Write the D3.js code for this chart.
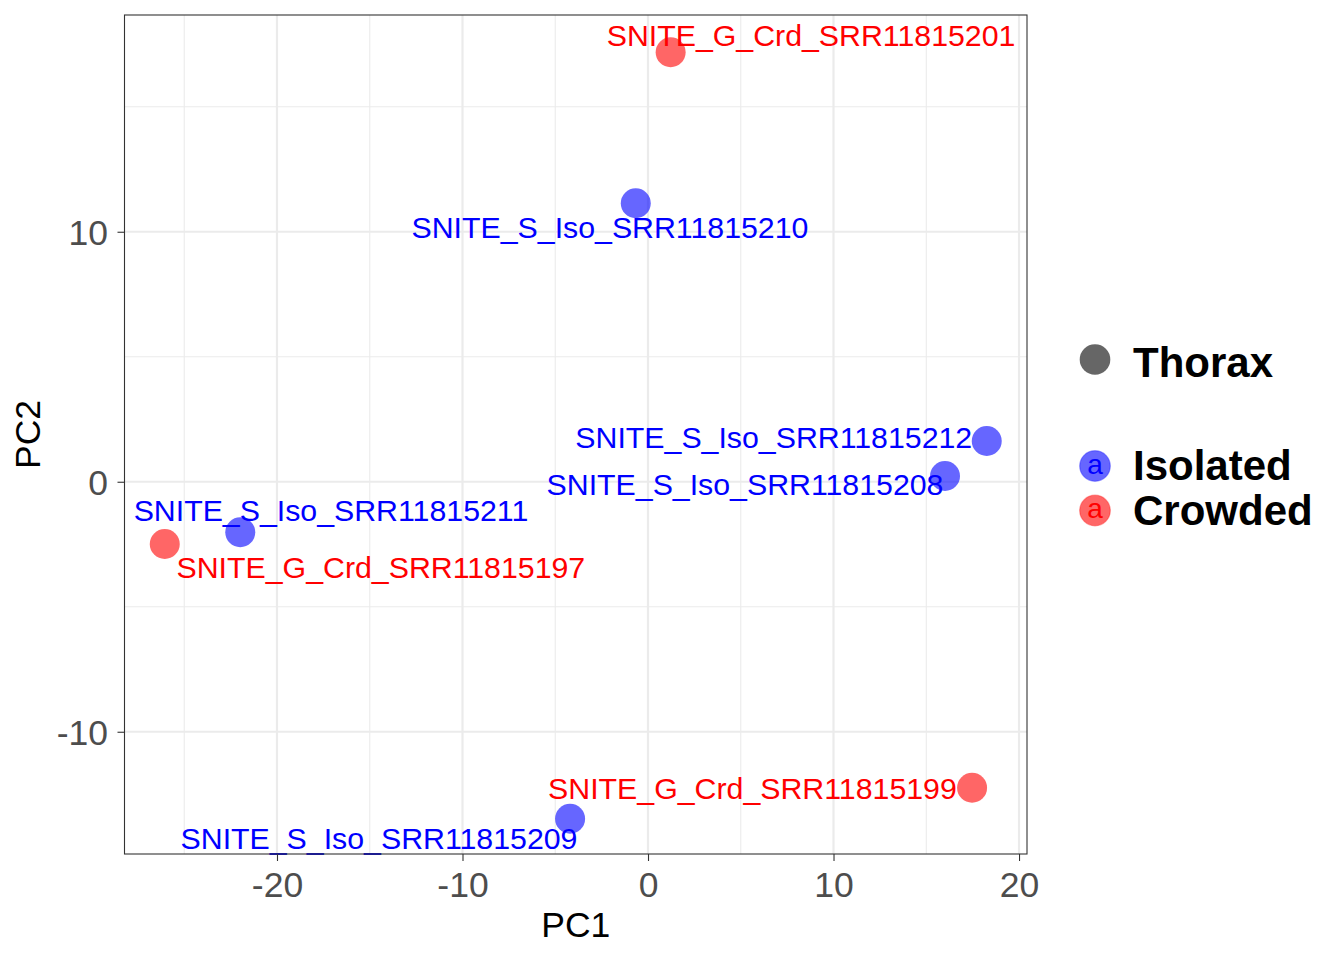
<!DOCTYPE html>
<html>
<head>
<meta charset="utf-8">
<script src="https://cdn.jsdelivr.net/npm/d3@7"></script>
<style>
  body { margin: 0; background: #fff; }
  svg text { font-family: "Liberation Sans", Arial, Helvetica, sans-serif; }
</style>
</head>
<body>
<div id="chart"></div>
<script>
'use strict';

// samples
const samples = ['SNITE_G_Crd_SRR11815201', 'SNITE_S_Iso_SRR11815210', 'SNITE_S_Iso_SRR11815212',
    'SNITE_S_Iso_SRR11815208', 'SNITE_S_Iso_SRR11815211', 'SNITE_G_Crd_SRR11815197',
    'SNITE_G_Crd_SRR11815199', 'SNITE_S_Iso_SRR11815209'];
const groups = ['Crowded', 'Isolated', 'Isolated', 'Isolated', 'Isolated', 'Crowded', 'Crowded', 'Isolated'];
const pc1 = [1.22, -0.66, 18.26, 16.01, -21.98, -26.05, 17.47, -4.2];
const pc2 = [17.18, 11.14, 1.63, 0.23, -2.02, -2.49, -12.24, -13.48];
// repelled label positions (data units)
const labelPc1 = [8.79, -2.05, 6.78, 5.23, -17.09, -14.4, 5.63, -14.5];
const labelPc2 = [17.85, 10.19, 1.77, -0.09, -1.14, -3.41, -12.27, -14.25];

const groupNames = ['Isolated', 'Crowded'];
const groupColors = ['#0000FF', '#FF0000'];
const tissue = 'Thorax';

const xTicks = [-20, -10, 0, 10, 20];
const xMinor = [-25, -15, -5, 5, 15];
const yTicks = [-10, 0, 10];
const yMinor = [-5, 5, 15];

const W = 1344, H = 960;
const margin = {top: 15, left: 124.5};
const width = 902.5, height = 839;

const svg = d3.select('#chart').append('svg')
    .attr('width', W).attr('height', H)
    .attr('viewBox', [0, 0, W, H]);

const g = svg.append('g')
    .attr('transform', `translate(${margin.left}, ${margin.top})`);

const x = d3.scaleLinear().domain([-28.22, 20.43]).range([0, width]);
const y = d3.scaleLinear().domain([-14.89, 18.67]).range([height, 0]);
const color = d3.scaleOrdinal().domain(groupNames).range(groupColors);

// grid
g.append('g').selectAll('line').data(xMinor).join('line')
    .attr('x1', d => x(d)).attr('x2', d => x(d)).attr('y1', 0).attr('y2', height)
    .attr('stroke', '#EBEBEB').attr('stroke-width', 1.1);
g.append('g').selectAll('line').data(yMinor).join('line')
    .attr('y1', d => y(d)).attr('y2', d => y(d)).attr('x1', 0).attr('x2', width)
    .attr('stroke', '#EBEBEB').attr('stroke-width', 1.1);
g.append('g').selectAll('line').data(xTicks).join('line')
    .attr('x1', d => x(d)).attr('x2', d => x(d)).attr('y1', 0).attr('y2', height)
    .attr('stroke', '#EBEBEB').attr('stroke-width', 2.2);
g.append('g').selectAll('line').data(yTicks).join('line')
    .attr('y1', d => y(d)).attr('y2', d => y(d)).attr('x1', 0).attr('x2', width)
    .attr('stroke', '#EBEBEB').attr('stroke-width', 2.2);

// points
const idx = d3.range(samples.length);
g.append('g').selectAll('circle').data(idx).join('circle')
    .attr('cx', i => x(pc1[i]))
    .attr('cy', i => y(pc2[i]))
    .attr('r', 15)
    .attr('fill', i => color(groups[i]))
    .attr('fill-opacity', 0.6);

// labels
g.append('g').selectAll('text').data(idx).join('text')
    .attr('x', i => x(labelPc1[i]))
    .attr('y', i => y(labelPc2[i]))
    .attr('dy', '0.36em')
    .attr('text-anchor', 'middle')
    .attr('font-size', 30.3)
    .attr('fill', i => color(groups[i]))
    .text(i => samples[i]);

// border
g.append('rect')
    .attr('width', width).attr('height', height)
    .attr('fill', 'none').attr('stroke', '#333333').attr('stroke-width', 1.1);

// axes (plain hyphen for negatives, like R)
const fmt = d => String(d);
const xAxis = g.append('g')
    .attr('transform', `translate(0, ${height})`)
    .call(d3.axisBottom(x).tickValues(xTicks).tickFormat(fmt).tickSize(7).tickPadding(10.5).tickSizeOuter(0));
const yAxis = g.append('g')
    .call(d3.axisLeft(y).tickValues(yTicks).tickFormat(fmt).tickSize(7).tickPadding(9.5).tickSizeOuter(0));
[xAxis, yAxis].forEach(a => {
    a.select('.domain').remove();
    a.selectAll('.tick line').attr('stroke', '#333333').attr('stroke-width', 1.1);
    a.selectAll('.tick text')
        .attr('fill', '#4D4D4D')
        .attr('font-size', 35.5)
        .style('font-family', '"Liberation Sans", Arial, sans-serif');
});
yAxis.selectAll('.tick text').attr('dy', '0.36em');

// axis titles
svg.append('text')
    .attr('x', margin.left + width / 2)
    .attr('y', 937)
    .attr('text-anchor', 'middle')
    .attr('font-size', 35.5)
    .text('PC1');
svg.append('text')
    .attr('transform', `translate(40, ${margin.top + height / 2}) rotate(-90)`)
    .attr('text-anchor', 'middle')
    .attr('font-size', 35.5)
    .text('PC2');

// legend
const legend = svg.append('g');
legend.append('circle')
    .attr('cx', 1095).attr('cy', 359.5).attr('r', 15.3)
    .attr('fill', '#000').attr('fill-opacity', 0.6);
legend.append('text')
    .attr('x', 1133).attr('y', 376.5)
    .attr('font-size', 42).attr('font-weight', 'bold')
    .text(tissue);

const keys = legend.selectAll('g.key').data(groupNames).join('g')
    .attr('class', 'key')
    .attr('transform', (d, i) => `translate(0, ${466 + i * 44.5})`);
keys.append('circle')
    .attr('cx', 1095).attr('cy', 0).attr('r', 15.3)
    .attr('fill', d => color(d)).attr('fill-opacity', 0.6)
    .attr('stroke', d => color(d)).attr('stroke-opacity', 0.35).attr('stroke-width', 1.2);
keys.append('text')
    .attr('x', 1095).attr('y', 0).attr('dy', '0.27em')
    .attr('text-anchor', 'middle')
    .attr('font-size', 28)
    .attr('fill', d => color(d))
    .text('a');
keys.append('text')
    .attr('x', 1133).attr('y', 14)
    .attr('font-size', 42).attr('font-weight', 'bold')
    .text(d => d);
</script>
</body>
</html>
